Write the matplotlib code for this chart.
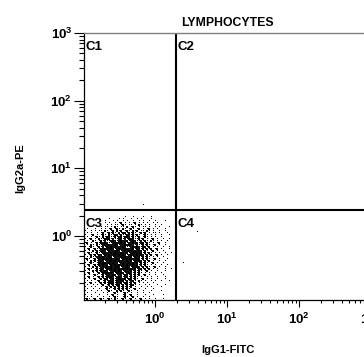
import numpy as np
import matplotlib
matplotlib.use("Agg")
import matplotlib.pyplot as plt
from matplotlib.ticker import LogLocator, FuncFormatter, NullFormatter

plt.rcParams['font.family'] = ['Liberation Sans', 'DejaVu Sans']
plt.rcParams['mathtext.fontset'] = 'custom'
plt.rcParams['mathtext.rm'] = 'Liberation Sans:bold'
plt.rcParams['mathtext.bf'] = 'Liberation Sans:bold'
plt.rcParams['mathtext.default'] = 'bf'

# ---- data ----
title = "LYMPHOCYTES"
x_label = "IgG1-FITC"
y_label = "IgG2a-PE"
x_limits_log = (-0.986, 3.0)
y_limits_log = (-0.946, 3.0)
x_gate = 1.95
y_gate = 2.4
quadrant_names = ["C1", "C2", "C3", "C4"]

# density map of events (log-space cells)
# ' ' none, '.' single event, ':' a few events, '#' many events
grid_x0_log = -0.972     # log10 x of first column
grid_dx_log = 0.0278     # log10 step per column
grid_y0_log = 0.281      # log10 y of first row
grid_dy_log = 0.0295     # log10 step per row
event_rows = [
    "                    .   .    .   .          ",
    "            .    . .   .  . .    .          ",
    "          .   . .  . .  .  . .  .  .    .   ",
    "          . .  . .: . . .: . . .  . .       ",
    "           . . .. .:. .. . :. . .  .  .     ",
    "        . .. . :. .. : .:. . .. .  . .    . ",
    " .   .  . . .: .:. :. .:. .: . .: . .   .   ",
    ".  . . .. :. .: :.: .:. :.: .. :. .  .  .   ",
    " . .  . .: .:.:. :.::.:.:. .:.: . .. .   .  ",
    ".  .: . .:. :..:#.:..:#.:.:. .:. . .  .   . ",
    " . . .:. :.:#..:.#:.::#.:..: .:. . .  .   ",
    ". .: . :..:#:.#..#:.#.::#..:.: . .: .  .  .",
    " .  :. .:.#..#:#.#:##:.#:#..#.:. :. . .  .  ",
    ".: . .:.:#:#..#:##:#:.##:#:.#:.:. . .:  .   ",
    " . :. :..#:#:##:#.##:#:##.#..:.:. .: .  .  ",
    ". .:. .:.#.:#:#:###:#..#:#:#.#:.: . .  .  . ",
    " .: .:..:#:##:#.#:##:###:.:#.:.:.: .: .   .",
    ". . :.:.#:#.:###:#.#:#:##:#:#.:. .: .  .   ",
    " .:. .:..#:##:#:##:###.#:#:#:.:.:. . .  .  .",
    ". .:.:.:#.:#:##:#:#:#.#:##:#:#.:.: .: .  .  ",
    " . :..#:#:##:#.###:#:##:.:#:.:.:. . .  .   ",
    ".:. .:.:#:#:#:##:#.:#:#:##:#.:.:. .: .   . ",
    " . :.:.#:#.##:#:#:###:#:.:#:#.:.: .  .  .   ",
    ". .:. .:#::#:#:##.#:##:#:#:.:.:. .: .  .   ",
    " .: .:.:#:##.:#:#:#:#:##:#:.#.:. . .  .  . ",
    ". . :.:.#:#:#:##:#.##:#.:#:#.:.:. .: .  .    ",
    " .:. .:.:#.:#:#:#:#:#:#:#:.#:.:.: . .   .  . ",
    ". . :.:.:#:#.##:#:#.:##:.:.:. .: .  .   .  ",
    " .: . .:.:#:#:#.:#:#.#:#.:.:. . .  .  .    ",
    ". . .:. .:.#:#:#.#:.:#.:.:.: .: .  .   .    ",
    " .: . .:.:.:#:#.#:#.#:.:.:. .  . .  .   .   ",
    ". . .: .:.::.#:.#::#:.::.:. .: . .  .   .    ",
    " . .  .: .:.:#:.:#::.:.#:. :. .  . .  .   .     ",
    ". .: . .:.:.:::.:#:.::.:.: . . .  .         ",
    " .  . . .: .:.:.::.:.:.::. .  . .   .   .      ",
    ".  . .  . .:.:.:.:.:.:.: .  .  . .    .       ",
    " .  .  .  .:. .:.:.:.:. .: .  .   .         ",
    ".  .  . .  .:.  :.:. .:.  .  .   .    .       ",
    " .   .   . .  .:.  .:. .  .  .  .            ",
    ".  .   .   . .: .  .: .:  .   .   .    .      ",
    " . .  .  .  . .:.  .:. .: .  .  .           ",
    ".:. .: .:. .:. :. .:. .: . .: . .  .   .    ",
]
# isolated events outside the main cloud
stray_x = [0.68, 3.83, 2.45]
stray_y = [2.87, 1.15, 0.40]

# ---- figure ----
fig = plt.figure(figsize=(3.64, 3.57), dpi=100)
ax = fig.add_axes([84 / 364, 57 / 357, 287 / 364, 267 / 357])
ax.set_xscale('log')
ax.set_yscale('log')
ax.set_xlim(10 ** x_limits_log[0], 10 ** x_limits_log[1])
ax.set_ylim(10 ** y_limits_log[0], 10 ** y_limits_log[1])

pts = {'.': ([], []), ':': ([], []), '#': ([], [])}
for r, row in enumerate(event_rows):
    for c, ch in enumerate(row):
        if ch in pts:
            pts[ch][0].append(10 ** (grid_x0_log + c * grid_dx_log))
            pts[ch][1].append(10 ** (grid_y0_log - r * grid_dy_log))
ax.plot(pts['.'][0] + stray_x, pts['.'][1] + stray_y, ',', color='black')
ax.scatter(pts[':'][0], pts[':'][1], s=0.75, marker='s', c='black', linewidths=0)
ax.scatter(pts['#'][0], pts['#'][1], s=1.15, marker='s', c='#111111', linewidths=0)

# quadrant gates
ax.axvline(x_gate, color='black', lw=1.5)
ax.axhline(y_gate, color='black', lw=1.5)

# quadrant labels
lab_kw = dict(fontsize=9.5, fontweight='bold', ha='left', va='baseline',
              textcoords='offset points')
xmin, xmax = ax.get_xlim()
ymin, ymax = ax.get_ylim()
ax.annotate(quadrant_names[0], xy=(xmin, ymax), xytext=(0.8, -12.2), **lab_kw)
ax.annotate(quadrant_names[1], xy=(x_gate, ymax), xytext=(1.0, -12.2), **lab_kw)
ax.annotate(quadrant_names[2], xy=(xmin, y_gate), xytext=(0.8, -12.2), **lab_kw)
ax.annotate(quadrant_names[3], xy=(x_gate, y_gate), xytext=(1.0, -12.2), **lab_kw)

# spines
ax.spines['right'].set_visible(False)
ax.spines['top'].set_color('#808080')
ax.spines['top'].set_linewidth(1.0)
ax.spines['left'].set_linewidth(0.9)
ax.spines['bottom'].set_linewidth(0.9)

# ticks
fmt = FuncFormatter(lambda v, p: r'$10^{%d}$' % int(round(np.log10(v))))
for axis in (ax.xaxis, ax.yaxis):
    axis.set_major_locator(LogLocator(base=10))
    axis.set_minor_locator(LogLocator(base=10, subs=np.arange(2, 10)))
    axis.set_major_formatter(fmt)
    axis.set_minor_formatter(NullFormatter())
ax.tick_params(axis='x', which='major', direction='out', length=5, width=0.8, pad=3.4, labelsize=9.5)
ax.tick_params(axis='x', which='minor', direction='out', length=2.5, width=0.8)
ax.tick_params(axis='y', which='major', direction='out', length=7, width=0.8, pad=1.5, labelsize=9.5)
ax.tick_params(axis='y', which='minor', direction='out', length=3.6, width=0.8)

# title and axis labels
ax.set_title(title, fontsize=8.8, fontweight='bold', pad=5.3)
ax.set_xlabel(x_label, fontsize=8, fontweight='bold', va='top')
ax.xaxis.set_label_coords(0.5, -0.169)
ax.set_ylabel(y_label, fontsize=8, fontweight='bold', va='center')
ax.yaxis.set_label_coords(-0.223, 0.4925)

fig.savefig('out.png', dpi=100)
